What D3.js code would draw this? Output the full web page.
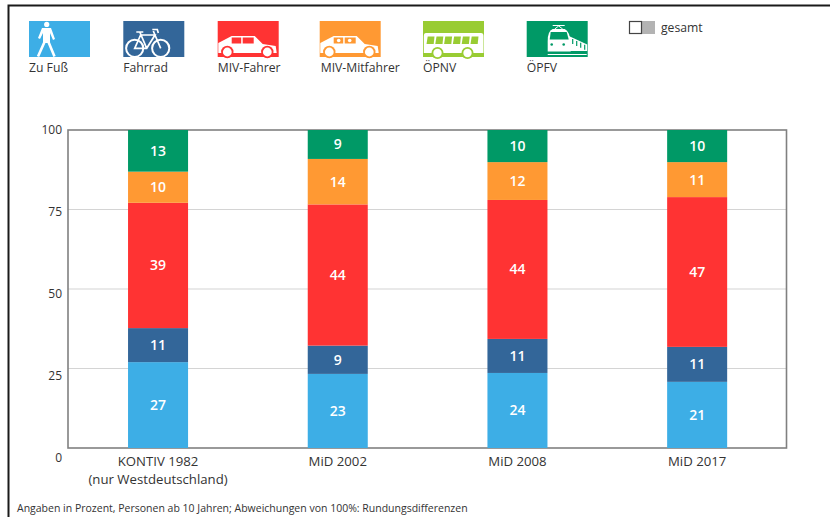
<!DOCTYPE html>
<html>
<head>
<meta charset="utf-8">
<script src="https://cdn.jsdelivr.net/npm/d3@7"></script>
<style>
  html, body { margin: 0; padding: 0; background: #fff; }
  svg { display: block; }
  text { font-family: "Open Sans", "Noto Sans", sans-serif; fill: #333; }
</style>
</head>
<body>
<svg id="chart" width="830" height="517"></svg>
<script>
const categories = ["KONTIV 1982", "MiD 2002", "MiD 2008", "MiD 2017"]
const modes = ["Zu Fuß", "Fahrrad", "MIV-Fahrer", "MIV-Mitfahrer", "ÖPNV", "ÖPFV"]
const colors = ["#3daee6", "#336699", "#ff3333", "#ff9933", "#99cc33", "#009966"]

// shares per year, bottom to top
const zuFuss = [27.0, 23.3, 23.6, 20.8]
const fahrrad = [10.7, 8.9, 10.7, 11.0]
const mivFahrer = [39.4, 44.4, 43.7, 47.1]
const mivMitfahrer = [9.8, 14.3, 11.9, 11.0]
const opfv = [13.1, 9.1, 10.1, 10.1]
const stackSeries = [zuFuss, fahrrad, mivFahrer, mivMitfahrer, opfv]
const stackColors = [colors[0], colors[1], colors[2], colors[3], colors[5]]

const yTicks = [0, 25, 50, 75, 100]

const svg = d3.select("#chart")

// frame of the screenshot
svg.append("path").attr("d", "M8.5,517V5.5H830").attr("fill", "none").attr("stroke", "#1a1a1a").attr("stroke-width", 2)

const xScale = d3.scaleBand().domain(categories).range([68.2, 787]).paddingInner(0.666).paddingOuter(0.333)
const yScale = d3.scaleLinear().domain([0, 100]).range([448, 130])
// the tick labels sit a little off the grid lines in the original
const yLabelScale = d3.scaleLinear().domain([0, 100]).range([458, 130])

// grid
svg.append("g").selectAll("line")
  .data(yTicks.slice(1, 4))
  .enter().append("line")
  .attr("x1", 68).attr("x2", 787)
  .attr("y1", d => yScale(d)).attr("y2", d => yScale(d))
  .attr("stroke", "#d4d4d4").attr("stroke-width", 1.2)

// plot box
svg.append("rect")
  .attr("x", 68).attr("y", yScale(100))
  .attr("width", 718.5).attr("height", yScale(0) - yScale(100))
  .attr("fill", "none").attr("stroke", "#808080").attr("stroke-width", 1.6)

// stacked bars
categories.forEach((cat, c) => {
  let sum = 0
  stackSeries.forEach((series, s) => {
    const v = series[c]
    const y0 = yScale(sum + v)
    const y1 = yScale(sum)
    svg.append("rect")
      .attr("x", xScale(cat)).attr("y", y0)
      .attr("width", xScale.bandwidth()).attr("height", y1 - y0)
      .attr("fill", stackColors[s])
    svg.append("text")
      .attr("x", xScale(cat) + xScale.bandwidth() / 2).attr("y", (y0 + y1) / 2 + 5)
      .attr("text-anchor", "middle")
      .style("fill", "#fff").style("font-size", "14px").style("font-weight", 600)
      .text(Math.round(v))
    sum += v
  })
})

// y axis labels
const yAxis = d3.axisLeft(yLabelScale).tickValues(yTicks).tickSize(0).tickPadding(0)
const yAxisGroup = svg.append("g").attr("transform", "translate(62,0)").call(yAxis)
yAxisGroup.select(".domain").remove()
yAxisGroup.selectAll("text").style("font-size", "12px").style("font-weight", 500).style("font-family", '"Open Sans"').style("fill", "#333")

// x axis labels
const xAxis = d3.axisBottom(xScale).tickSize(0).tickPadding(0)
const xAxisGroup = svg.append("g").attr("transform", "translate(0,457)").call(xAxis)
xAxisGroup.select(".domain").remove()
xAxisGroup.selectAll("text").style("font-size", "13.2px").style("font-family", '"Open Sans"').style("fill", "#333")
svg.append("text").attr("x", xScale(categories[0]) + 30).attr("y", 484).attr("text-anchor", "middle")
  .style("font-size", "13.2px").text("(nur Westdeutschland)")

// footnote
svg.append("text").attr("x", 17).attr("y", 512).style("font-size", "10.5px")
  .text("Angaben in Prozent, Personen ab 10 Jahren; Abweichungen von 100%: Rundungsdifferenzen")

// legend
const legendX = [29, 123.3, 217.7, 319.7, 423, 526.7]
const iconW = 61, iconH = 36

function drawCar(g, color, withHeads) {
  g.append("path").attr("fill", "#fff")
    .attr("d", "M0.6,22 L14,15 L37,15 L45,23 L58,25 L59,32 L0.6,32Z")
  g.append("rect").attr("x", 14).attr("y", 16.5).attr("width", 9.5).attr("height", 6).attr("fill", color)
  g.append("rect").attr("x", 25).attr("y", 16.5).attr("width", 11).attr("height", 6).attr("fill", color)
  if (withHeads) {
    g.append("circle").attr("cx", 19).attr("cy", 19.5).attr("r", 1.8).attr("fill", "#fff")
    g.append("circle").attr("cx", 30).attr("cy", 19.5).attr("r", 1.8).attr("fill", "#fff")
  }
  ;[9.6, 49.6].forEach(cx => {
    g.append("circle").attr("cx", cx).attr("cy", 31).attr("r", 6.2).attr("fill", color)
    g.append("circle").attr("cx", cx).attr("cy", 31).attr("r", 4.4).attr("fill", "#fff")
  })
}

const iconDraw = [
  g => {
    g.append("circle").attr("cx", 17.7).attr("cy", 3.4).attr("r", 2.6).attr("fill", "#fff")
    g.append("path").attr("fill", "#fff").attr("d", "M13,7 L22,7 L26,18 L24,19 L21,12 L21,22 L14,22 L14,12 L11,18 L9,17Z")
    g.append("path").attr("fill", "none").attr("stroke", "#fff").attr("stroke-width", 2.6)
      .attr("d", "M15.5,21 L9,35.5 M19.5,21 L25.5,35.5")
  },
  g => {
    const line = "M11.4,27.3 L17.3,14 L31.7,14 L23.4,27.3 Z M23.4,27.3 L16.5,11 M13,11 L20,11 M31.7,14 L37.4,27.3 M30,10 L31.7,14 M29,8.5 L34,8.5 L35,12"
    g.append("path").attr("fill", "none").attr("stroke", "#fff").attr("stroke-width", 1.7).attr("d", line)
    ;[11.4, 37.4].forEach(cx => {
      g.append("circle").attr("cx", cx).attr("cy", 27.3).attr("r", 8.6).attr("fill", "none").attr("stroke", "#fff").attr("stroke-width", 2)
    })
  },
  g => drawCar(g, colors[2], false),
  g => drawCar(g, colors[3], true),
  g => {
    g.append("path").attr("fill", "#fff").attr("d", "M3,12 L58,12 Q60.5,12 60.5,15 L60.5,32 L0.8,32 L0.8,15 Q0.8,12 3,12Z")
    d3.range(6).forEach(i => {
      const x = 3.5 + i * 8.8
      g.append("path").attr("fill", colors[4]).attr("d", `M${x + 1.2},15.5 L${x + 8},15.5 L${x + 7.2},23 L${x},23Z`)
    })
    ;[14.5, 44.5].forEach(cx => {
      g.append("circle").attr("cx", cx).attr("cy", 32).attr("r", 6).attr("fill", colors[4])
      g.append("circle").attr("cx", cx).attr("cy", 32).attr("r", 4.2).attr("fill", "#fff")
    })
  },
  g => {
    const c = colors[5]
    g.append("path").attr("fill", "none").attr("stroke", "#fff").attr("stroke-width", 1).attr("d", "M26,4.5 L38,4.5 M32,5 L28,8 M32,5 L36,8")
    g.append("path").attr("fill", "#fff").attr("d", "M26,8 L38,8 Q43,10 44,22 L44,30.5 L21,30.5 L21,20 Q21,10 26,8Z")
    g.append("path").attr("fill", "#fff").attr("d", "M40,14 L60.5,23.5 L60.5,30 L40,30Z")
    g.append("path").attr("fill", c).attr("d", "M24,11 L40,11 L42,18.5 L23,18.5Z")
    g.append("circle").attr("cx", 25).attr("cy", 23.5).attr("r", 1.3).attr("fill", c)
    g.append("circle").attr("cx", 37).attr("cy", 23.5).attr("r", 1.3).attr("fill", c)
    ;[46, 50, 54, 58].forEach((x, i) => {
      g.append("path").attr("stroke", c).attr("stroke-width", 1.2).attr("d", `M${x},${18 + i * 1.9}V${23 + i * 1.9}`)
    })
    g.append("path").attr("stroke", "#fff").attr("stroke-width", 1.2).attr("d", "M21,33.5H60")
  }
]

modes.forEach((m, i) => {
  const g = svg.append("g").attr("transform", `translate(${legendX[i]},21)`)
  g.append("rect").attr("width", iconW).attr("height", iconH).attr("fill", colors[i])
  iconDraw[i](g)
  svg.append("text").attr("x", legendX[i] + (i == 3 ? 1 : 0)).attr("y", 72).style("font-size", "12.2px").text(m)
})

// gesamt key
svg.append("rect").attr("x", 641).attr("y", 21).attr("width", 14).attr("height", 13).attr("fill", "#b3b3b3")
svg.append("rect").attr("x", 629.5).attr("y", 21.5).attr("width", 12).attr("height", 12).attr("fill", "#fff").attr("stroke", "#444").attr("stroke-width", 1.2)
svg.append("text").attr("x", 661).attr("y", 32).style("font-size", "12.2px").text("gesamt")
</script>
</body>
</html>
